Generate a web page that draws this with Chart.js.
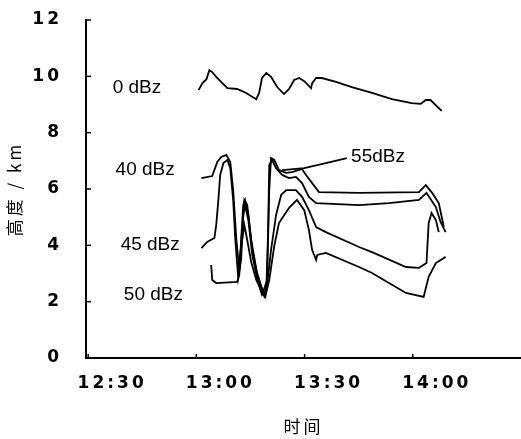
<!DOCTYPE html>
<html>
<head>
<meta charset="utf-8">
<script src="https://cdn.jsdelivr.net/npm/chart.js@4/dist/chart.umd.min.js"></script>
<style>
  html, body { margin: 0; padding: 0; background: #fff; }
  #wrap { width: 521px; height: 439px; }
</style>
</head>
<body>
<div id="wrap"><canvas id="myChart" width="521" height="439"></canvas></div>
<script>
// minutes after 12:30
var tickMinutes = [0, 30, 60, 90];
var timeLabels = ['12:30', '13:00', '13:30', '14:00'];

var seriesNames = ['0 dBz', '40 dBz', '45 dBz', '50 dBz', '55dBz'];

var time0 = [30.6, 31.7, 32.8, 33.6, 34.4, 35.5, 37.2, 38.6, 41.3, 43.8, 46.6, 47.4, 48.2, 49.4, 50.7, 52.4, 54.3, 55.7, 57.1, 58.5, 59.9, 61.8, 62.1, 63.2, 64.8, 68.7, 73.1, 78.7, 84.2, 89.7, 92.2, 93.6, 94.9, 98.0];
var height0 = [9.51, 9.76, 9.90, 10.22, 10.15, 9.98, 9.76, 9.58, 9.55, 9.41, 9.19, 9.41, 9.94, 10.12, 9.98, 9.62, 9.37, 9.55, 9.87, 9.94, 9.83, 9.58, 9.76, 9.94, 9.94, 9.80, 9.62, 9.41, 9.19, 9.05, 9.02, 9.16, 9.16, 8.77];

var time40 = [31.4, 34.4, 35.8, 36.9, 38.3, 39.4, 40.2, 41.1, 41.9, 42.7, 43.3, 44.1, 45.2, 46.9, 48.5, 49.6, 50.2, 50.7, 51.6, 52.9, 54.9, 56.5, 59.3, 60.4, 62.1, 64.0, 75.1, 91.7, 93.6, 95.2, 97.2, 98.6];
var height40 = [6.39, 6.46, 6.96, 7.14, 7.21, 6.96, 5.96, 4.19, 3.12, 4.54, 5.61, 5.43, 4.19, 2.95, 2.34, 2.77, 5.96, 7.10, 7.03, 6.67, 6.57, 6.60, 6.71, 6.50, 6.21, 5.89, 5.86, 5.89, 6.14, 5.89, 5.50, 4.65];

var time45 = [31.4, 33.0, 35.0, 35.5, 36.1, 36.6, 37.5, 38.6, 39.4, 40.2, 40.8, 41.6, 42.4, 43.0, 43.5, 44.4, 45.5, 46.9, 48.2, 49.4, 49.9, 50.2, 51.0, 52.1, 53.8, 55.7, 57.6, 59.3, 61.2, 63.2, 75.1, 83.4, 91.7, 93.8, 96.4, 97.7, 99.1];
var height45 = [3.90, 4.12, 4.26, 4.72, 5.61, 6.50, 6.92, 7.03, 6.74, 5.61, 4.19, 2.84, 3.48, 5.08, 5.43, 4.90, 3.66, 2.77, 2.24, 2.41, 4.54, 6.85, 7.03, 6.74, 6.50, 6.39, 6.43, 6.21, 5.72, 5.50, 5.43, 5.50, 5.61, 5.86, 5.36, 4.83, 4.47];

var time50 = [34.1, 34.4, 35.5, 41.3, 41.9, 42.4, 43.0, 43.5, 44.4, 45.5, 46.6, 47.7, 48.8, 49.6, 50.7, 52.1, 53.5, 54.9, 57.6, 59.3, 61.2, 63.2, 65.9, 75.1, 78.7, 88.1, 91.7, 93.8, 94.4, 95.2, 96.4, 97.2];
var height50 = [3.30, 2.77, 2.66, 2.70, 2.95, 4.19, 5.43, 5.61, 5.08, 3.83, 3.12, 2.66, 2.20, 2.59, 3.83, 5.08, 5.79, 5.96, 5.96, 5.72, 5.25, 4.65, 4.47, 3.94, 3.76, 3.23, 3.20, 3.37, 4.79, 5.15, 4.90, 4.47];

var time55 = [41.9, 42.7, 43.3, 44.1, 45.2, 46.6, 48.0, 49.1, 50.2, 51.6, 52.9, 55.7, 57.9, 59.9, 61.2, 62.1, 63.2, 63.5, 65.9, 75.1, 78.7, 88.1, 93.0, 94.4, 96.4, 99.1];
var height55 = [3.41, 4.19, 4.72, 4.19, 3.41, 2.77, 2.41, 2.17, 2.77, 3.98, 4.79, 5.33, 5.61, 5.25, 4.54, 3.83, 3.48, 3.66, 3.73, 3.23, 3.02, 2.31, 2.17, 2.88, 3.37, 3.59];

// leader from the 55dBz label
var leaderTime = [53.8, 59.9, 65.9, 71.7];
var leaderHeight = [6.67, 6.74, 6.92, 7.10];

// where the series names are written (time, height)
var labelTime = [6.8, 7.6, 9.0, 9.9, 72.9];
var labelHeight = [9.59, 6.67, 4.01, 2.24, 7.14];

function pts(t, h) {
    var out = [];
    for (var i = 0; i < t.length; i++) out.push({x: t[i], y: h[i]});
    return out;
}

function line(t, h) {
    return {
        data: pts(t, h),
        borderColor: '#000',
        borderWidth: 1.8,
        pointRadius: 0,
        tension: 0,
        fill: false
    };
}

var tickFont = {family: 'DejaVu Sans', size: 17, weight: 'bold'};

var extras = {
    id: 'extras',
    beforeDraw: function(chart) {
        chart.ctx.letterSpacing = '3px';
    },
    beforeDatasetsDraw: function(chart) {
        chart.ctx.letterSpacing = '0px';
    },
    afterDraw: function(chart) {
        var ctx = chart.ctx;
        var xs = chart.scales.x, ys = chart.scales.y;
        var left = chart.chartArea.left, bottom = chart.chartArea.bottom;
        ctx.save();
        ctx.strokeStyle = '#000';
        ctx.lineWidth = 1.5;
        // inward ticks
        ys.ticks.forEach(function(t) {
            var y = ys.getPixelForValue(t.value);
            ctx.beginPath(); ctx.moveTo(left, y); ctx.lineTo(left + 5, y); ctx.stroke();
        });
        tickMinutes.forEach(function(m) {
            var x = xs.getPixelForValue(m);
            ctx.beginPath(); ctx.moveTo(x, bottom); ctx.lineTo(x, bottom - 4); ctx.stroke();
        });
        // series names
        ctx.fillStyle = '#000';
        ctx.font = '19px "Liberation Sans"';
        ctx.textAlign = 'left';
        ctx.textBaseline = 'middle';
        for (var i = 0; i < seriesNames.length; i++) {
            ctx.fillText(seriesNames[i], xs.getPixelForValue(labelTime[i]), ys.getPixelForValue(labelHeight[i]));
        }
        ctx.restore();
    }
};

var ctx = document.getElementById('myChart').getContext('2d');
var mychart = new Chart(ctx, {
    type: 'line',
    data: {
        datasets: [
            line(time0, height0),
            line(time40, height40),
            line(time45, height45),
            line(time50, height50),
            line(time55, height55),
            line(leaderTime, leaderHeight)
        ]
    },
    options: {
        responsive: false,
        animation: false,
        layout: {padding: {top: 20, right: 0, bottom: 0, left: 0}},
        plugins: {legend: {display: false}, tooltip: {enabled: false}},
        scales: {
            x: {
                type: 'linear',
                min: -0.6,
                max: 120,
                afterBuildTicks: function(scale) {
                    scale.ticks = tickMinutes.map(function(v) { return {value: v}; });
                },
                afterFit: function(scale) {
                    scale.height = 81;
                    scale.paddingLeft = 0;
                    scale.paddingRight = 0;
                },
                grid: {display: false, drawTicks: false},
                border: {display: true, color: '#000', width: 2},
                ticks: {
                    color: '#000',
                    font: tickFont,
                    padding: 15,
                    labelOffset: 24,
                    maxRotation: 0,
                    autoSkip: false,
                    callback: function(v) {
                        var i = tickMinutes.indexOf(v);
                        return i < 0 ? '' : timeLabels[i];
                    }
                },
                title: {
                    display: true,
                    text: '时间',
                    color: '#000',
                    font: {family: 'Noto Sans CJK SC', size: 17},
                    padding: {top: 0, bottom: 2}
                }
            },
            y: {
                min: 0,
                max: 12,
                afterFit: function(scale) {
                    scale.width = 86;
                    scale.paddingTop = 0;
                    scale.paddingBottom = 0;
                },
                grid: {display: false, drawTicks: false},
                border: {display: true, color: '#000', width: 2},
                ticks: {
                    stepSize: 2,
                    color: '#000',
                    font: tickFont,
                    padding: 24
                },
                title: {
                    display: true,
                    text: '高度 / km',
                    color: '#000',
                    font: {family: 'Noto Sans CJK SC', size: 17},
                    padding: {top: 4, bottom: 0}
                }
            }
        }
    },
    plugins: [extras]
});
</script>
</body>
</html>
